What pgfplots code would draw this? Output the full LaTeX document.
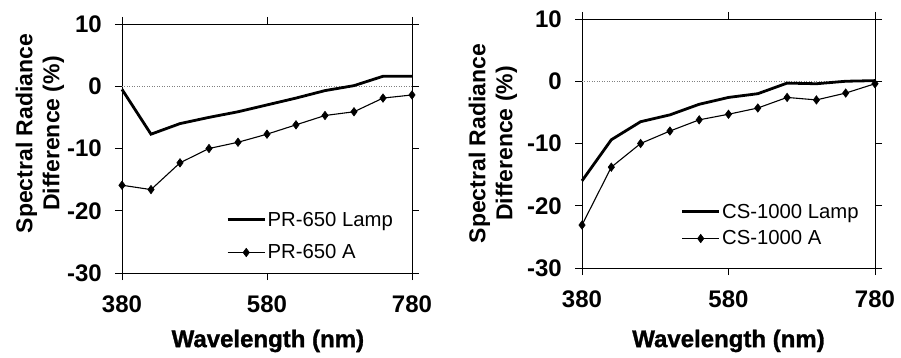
\documentclass[border=0pt]{standalone}
\usepackage{fontspec}
\setmainfont{Liberation Sans}
\newfontfamily\heavyfont{Liberation Sans Bold}[FakeBold=1.2]
\usepackage{pgfplots}
\pgfplotsset{compat=1.18}

\pgfplotstableread{
x     lamp   a
380   -0.5  -15.9
420   -7.7  -16.6
460   -6.0  -12.3
500   -5.0  -10.0
540   -4.1   -9.0
580   -3.0   -7.7
620   -1.9   -6.2
660   -0.7   -4.7
700    0.1   -4.1
740    1.6   -1.9
780    1.6   -1.4
}\prtable

\pgfplotstableread{
x     lamp   a
380  -16.0  -23.1
420   -9.4  -13.8
460   -6.5  -10.0
500   -5.4   -8.0
540   -3.7   -6.2
580   -2.6   -5.3
620   -2.0   -4.3
660   -0.3   -2.6
700   -0.4   -3.0
740    0.0   -1.9
780    0.1   -0.4
}\cstable

\pgfplotsset{
  panel/.style={
    scale only axis, height=249bp,
    xmin=380, xmax=780, ymin=-30, ymax=10,
    xtick={380,580,780}, ytick={-30,-20,-10,0,10},
    xticklabels={380,580,780}, yticklabels={-30,-20,-10,0,10},
    tick align=outside, major tick length=7bp,
    tick style={black, line width=0.8bp},
    axis line style={black, line width=0.8bp},
    ticklabel style={font=\bfseries\fontsize{24bp}{24bp}\selectfont},
    yticklabel style={inner sep=0pt, xshift=-13bp},
    xticklabel style={inner sep=0pt, yshift=-16bp},
    xlabel={Wavelength (nm)},
    xlabel style={font=\heavyfont\fontsize{24bp}{24bp}\selectfont, anchor=center},
    ylabel={Spectral Radiance\\Difference (\%)},
    ylabel style={font=\bfseries\fontsize{23bp}{27bp}\selectfont, align=center, anchor=center},
    clip=false,
    legend cell align=left,
    legend image code/.code={\draw[mark repeat=2,mark phase=2,##1] plot coordinates {(0bp,0bp)(18.5bp,0bp)(37bp,0bp)};},
    legend style={draw=none, fill=none, inner sep=0pt,
      font=\fontsize{20.3bp}{20.3bp}\selectfont, nodes={inner sep=1.5bp}},
  },
  lamp/.style={black, line width=2.8bp, mark=none},
  aser/.style={black, line width=1.1bp, mark=diamond*, mark size=4.2bp,
    mark options={fill=black, line width=0.6bp}},
  zero/.style={gray, dotted, line width=0.5bp, mark=none, forget plot},
}

\begin{document}
\begin{tikzpicture}
\useasboundingbox (0,0) rectangle (901bp,358bp);
\begin{axis}[panel, width=290bp, at={(122bp,85bp)}, anchor=south west,
  ylabel style={at={(axis description cs:-0.283,0.56)}},
  xlabel style={at={(axis description cs:0.503,-0.273)}},
  legend style={at={(0.94,0.044)}, anchor=south east, row sep=14bp}]
\addplot[zero] coordinates {(380,0) (780,0)};
\addplot[lamp] table[x=x, y=lamp] {\prtable};
\addlegendentry{PR-650 Lamp}
\addplot[aser] table[x=x, y=a] {\prtable};
\addlegendentry{PR-650 A}
\end{axis}
\begin{axis}[panel, width=293bp, at={(582bp,90bp)}, anchor=south west,
  ylabel style={at={(axis description cs:-0.304,0.5)}},
  xlabel style={at={(axis description cs:0.5,-0.293)}},
  legend style={at={(0.95,0.08)}, anchor=south east, row sep=8bp}]
\addplot[zero] coordinates {(380,0) (780,0)};
\addplot[lamp] table[x=x, y=lamp] {\cstable};
\addlegendentry{CS-1000 Lamp}
\addplot[aser] table[x=x, y=a] {\cstable};
\addlegendentry{CS-1000 A}
\end{axis}
\end{tikzpicture}
\end{document}
